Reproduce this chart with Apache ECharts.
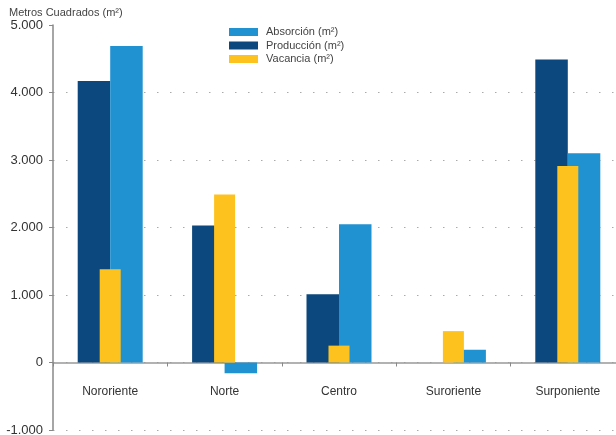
<!DOCTYPE html>
<html>
<head>
<meta charset="utf-8">
<script src="https://cdn.jsdelivr.net/npm/echarts@6/dist/echarts.min.js"></script>
<style>
  html, body { margin: 0; padding: 0; background: #fff; }
  #chart { width: 616px; height: 435px; }
</style>
</head>
<body>
<div id="chart"></div>
<script>
// Metros cuadrados por zona
const zonas = ['Nororiente', 'Norte', 'Centro', 'Suroriente', 'Surponiente'];
const produccion = [4170, 2030, 1010, 0, 4490];
const absorcion = [4690, -160, 2050, 190, 3100];
const vacancia = [1380, 2490, 250, 465, 2910];
const yTicks = { min: -1000, max: 5000, step: 1000 };

const FONT = '"Liberation Sans Narrow", "Liberation Sans", sans-serif';
const C_PROD = '#0c487d';
const C_ABS = '#2192d1';
const C_VAC = '#fec21f';

const fmt = v => {
  const s = Math.abs(v).toString().replace(/\B(?=(\d{3})+(?!\d))/g, '.');
  return (v < 0 ? '-' : '') + s;
};

const chart = echarts.init(document.getElementById('chart'));
chart.setOption({
  animation: false,
  backgroundColor: '#fff',
  title: {
    text: 'Metros Cuadrados (m²)',
    left: 4, top: 2,
    textStyle: { fontFamily: FONT, fontSize: 11, fontWeight: 'normal', color: '#444' }
  },
  legend: {
    orient: 'vertical',
    left: 224, top: 21,
    itemWidth: 29, itemHeight: 8, itemGap: 1.5,
    icon: 'rect',
    data: ['Absorción (m²)', 'Producción (m²)', 'Vacancia (m²)'],
    textStyle: { fontFamily: FONT, fontSize: 11, lineHeight: 12, color: '#444', padding: [0, 0, 0, 3] }
  },
  grid: { left: 53, top: 25, width: 572, height: 405, outerBoundsMode: 'none', containLabel: false },
  xAxis: [
    {
      type: 'category',
      data: zonas,
      axisLine: { onZero: true, lineStyle: { color: '#999', width: 1.5 } },
      axisTick: { show: true, length: 4, lineStyle: { color: '#888' } },
      axisLabel: { margin: -44, fontFamily: FONT, fontSize: 12, color: '#333', interval: 0 }
    },
    {
      type: 'category',
      data: zonas,
      show: false
    }
  ],
  yAxis: {
    type: 'value',
    min: yTicks.min, max: yTicks.max, interval: yTicks.step,
    axisLine: { show: true, lineStyle: { color: '#888', width: 1.5 } },
    axisTick: { show: true, length: 4, lineStyle: { color: '#888' } },
    axisLabel: { margin: 10, fontFamily: FONT, fontSize: 13, color: '#333', formatter: fmt },
    splitLine: {
      show: true,
      lineStyle: {
        color: ['#aaa', '#aaa', '#aaa', '#aaa', '#aaa', '#aaa', 'rgba(0,0,0,0)'],
        type: [1.5, 11.5],
        width: 1
      }
    }
  },
  series: [
    {
      name: 'Producción (m²)', type: 'bar', xAxisIndex: 0,
      data: produccion, barWidth: 32.5, barGap: '0%',
      itemStyle: { color: C_PROD }, z: 2
    },
    {
      name: 'Absorción (m²)', type: 'bar', xAxisIndex: 0,
      data: absorcion, barWidth: 32.5, barGap: '0%',
      itemStyle: { color: C_ABS }, z: 2
    },
    {
      name: 'Vacancia (m²)', type: 'bar', xAxisIndex: 1,
      data: vacancia, barWidth: 21,
      itemStyle: { color: C_VAC }, z: 3
    }
  ]
});
</script>
</body>
</html>
